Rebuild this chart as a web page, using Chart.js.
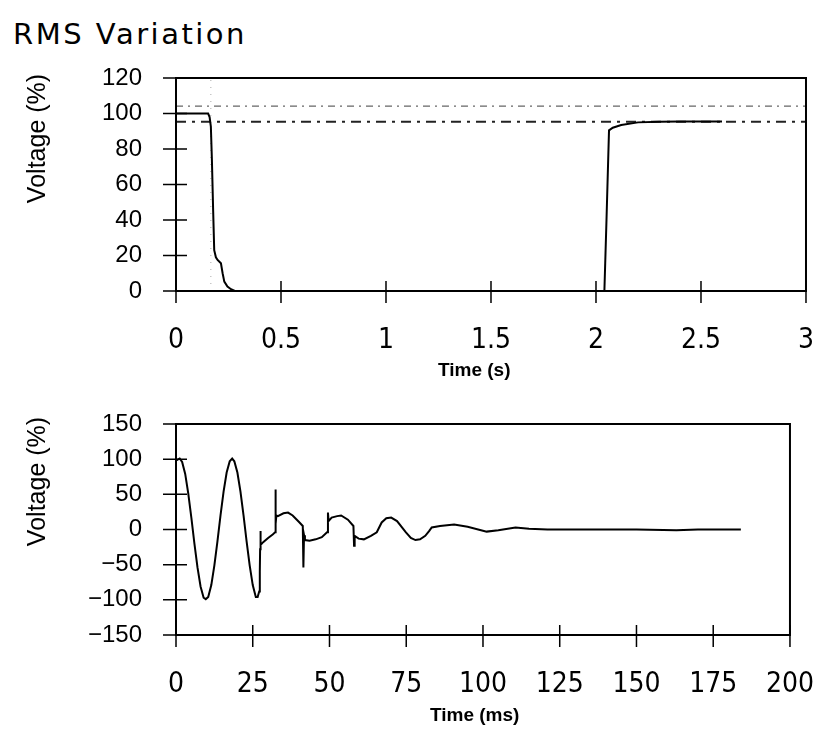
<!DOCTYPE html>
<html>
<head>
<meta charset="utf-8">
<script src="https://cdn.jsdelivr.net/npm/chart.js@4.4.1/dist/chart.umd.min.js"></script>
<style>
  body { margin: 0; background: #fff; }
  #wrap { position: relative; width: 839px; height: 729px; overflow: hidden; }
  canvas { position: absolute; left: 0; }
  .txt { position: absolute; color: #000; white-space: nowrap; }
  #title { left: 13px; top: 17px; line-height: 30px; font: 29px "DejaVu Sans"; letter-spacing: 2.5px; }
  .ylab { width: 140px; text-align: center; line-height: 30px; font: 25px "Liberation Sans"; transform: rotate(-90deg); }
  .xlab { font: bold 19px "Liberation Sans"; }
</style>
</head>
<body>
<div id="wrap">
  <div id="title" class="txt">RMS Variation</div>
  <canvas id="rmsChart" width="839" height="350" style="top:0"></canvas>
  <canvas id="waveChart" width="839" height="389" style="top:340px"></canvas>
  <div class="txt ylab" style="left:-34px; top:124px">Voltage (%)</div>
  <div class="txt ylab" style="left:-34px; top:467px">Voltage (%)</div>
  <div class="txt xlab" style="left:438px; top:359px">Time (s)</div>
  <div class="txt xlab" style="left:430px; top:704px">Time (ms)</div>
</div>
<script>
// top panel: rms voltage (%) vs time (s)
const rmsTime  = [0, 0.153, 0.16, 0.166, 0.171, 0.177, 0.182, 0.19, 0.198, 0.214, 0.222, 0.23, 0.245, 0.262, 0.28, 2.04, 2.05, 2.062, 2.08, 2.12, 2.2, 2.3, 2.4, 2.5, 2.6];
const rmsValue = [100, 100, 98, 92.6, 73.8, 45, 23, 19, 17.5, 15.6, 10, 5.3, 2.5, 1, 0, 0, 40, 90.5, 92, 93.5, 95, 95.3, 95.5, 95.5, 95.5];
const limitTime = [0, 3];
const upperLimit = [104.2, 104.2];
const lowerLimit = [95.4, 95.4];
const markerTime = [0.166, 0.166];
const markerValue = [0, 120];
const rmsTicksX = { min: 0, max: 3, step: 0.5 };
const rmsTicksY = { min: 0, max: 120, step: 20 };

// bottom panel: instantaneous voltage (%) vs time (ms)
const waveTime = [0, 1.2, 2, 3, 4, 5, 6, 7, 8, 9, 9.7, 10.5, 11.5, 12.5, 13.5, 14.5, 15.5, 16.5, 17.5, 18.3,
  19, 20, 21, 22, 23, 24, 25, 26, 26.6, 27.1, 27.3, 27.4, 27.5, 27.6, 28.4, 30, 31.5, 32.3, 32.4, 32.5,
  32.7, 33.2, 35, 36.5, 38, 40, 41.3, 41.5, 41.7, 42, 43.5, 45.5, 47.5, 49.2, 49.5, 49.7, 50.7, 52.5,
  53.8, 56, 57.8, 58, 58.2, 59.5, 61.2, 63.5, 65.4, 67, 68.5, 70.1, 72, 74.9, 76.5, 78, 79.5, 81.2,
  82.5, 83.3, 86, 90.6, 95, 101.2, 105, 110.6, 115, 121, 133.7, 150, 163, 170, 184];
const waveValue = [98, 101, 96, 79, 51, 17, -20, -54, -81, -97, -99, -96, -79, -51, -17, 20, 54, 81, 97, 101,
  97, 81, 54, 20, -17, -51, -79, -96, -96, -88, -60, -28, -2, -22, -18, -12, -7, -4, 57, 8,
  20, 19, 23, 24, 20, 11, 5, -54, -8, -15, -16, -14, -11, -4, 24, 12, 17, 19,
  20, 14, 5, -23, -9, -13, -14, -9, -4, 10, 16, 17, 12, -4, -12, -15, -14, -9,
  -2, 3, 5, 7, 4, -3, -1, 3, 1, 0, 0, 0, -1, 0, 0];
const waveTicksX = { min: 0, max: 200, step: 25 };
const waveTicksY = { min: -150, max: 150, step: 50 };

const pts = (xs, ys) => xs.map((x, i) => ({ x: x, y: ys[i] }));
const fmt = v => String(+Number(v).toFixed(2)).replace('-', '\u2212');

// box round the plot and ticks that cross the axes
const frame = {
  id: 'frame',
  afterDraw(chart) {
    const { ctx, chartArea: a, scales: { x, y } } = chart;
    ctx.save();
    ctx.strokeStyle = '#000';
    ctx.lineWidth = 2;
    ctx.strokeRect(a.left, a.top, a.right - a.left, a.bottom - a.top);
    ctx.lineWidth = 1.5;
    ctx.beginPath();
    x.ticks.forEach(t => {
      const px = x.getPixelForValue(t.value);
      ctx.moveTo(px, a.bottom - 10); ctx.lineTo(px, a.bottom + 12);
    });
    y.ticks.forEach(t => {
      const py = y.getPixelForValue(t.value);
      ctx.moveTo(a.left - 13, py); ctx.lineTo(a.left + 11, py);
    });
    ctx.stroke();
    ctx.restore();
  }
};

function makeChart(id, datasets, tx, ty, xHeight, padTop, padRight) {
  return new Chart(document.getElementById(id), {
    type: 'line',
    data: { datasets: datasets },
    options: {
      responsive: false, animation: false, devicePixelRatio: 1,
      layout: { padding: { top: padTop, right: padRight, left: 0, bottom: 0 } },
      plugins: { legend: { display: false }, tooltip: { enabled: false } },
      elements: { point: { radius: 0 }, line: { tension: 0 } },
      scales: {
        x: {
          type: 'linear', min: tx.min, max: tx.max,
          afterFit: s => { s.height = xHeight; },
          grid: { display: false }, border: { display: false },
          ticks: { stepSize: tx.step, padding: 25, color: '#000', maxRotation: 0, callback: fmt,
                   font: { family: "'DejaVu Sans Condensed', 'Liberation Sans', sans-serif", size: 28 } }
        },
        y: {
          type: 'linear', min: ty.min, max: ty.max,
          afterFit: s => { s.width = 176; },
          grid: { display: false }, border: { display: false },
          ticks: { stepSize: ty.step, padding: 26, color: '#000', callback: fmt,
                   font: { family: "'Liberation Sans', sans-serif", size: 24 } }
        }
      }
    },
    plugins: [frame]
  });
}

makeChart('rmsChart', [
  { data: pts(rmsTime, rmsValue), borderColor: '#000', borderWidth: 2 },
  { data: pts(limitTime, upperLimit), borderColor: '#666', borderWidth: 1.2, borderDash: [7, 5, 2, 5] },
  { data: pts(limitTime, lowerLimit), borderColor: '#222', borderWidth: 2, borderDash: [10, 6, 3, 6] },
  { data: pts(markerTime, markerValue), borderColor: '#aaa', borderWidth: 1, borderDash: [1, 6] }
], rmsTicksX, rmsTicksY, 59, 78, 27);

makeChart('waveChart', [
  { data: pts(waveTime, waveValue), borderColor: '#000', borderWidth: 2 }
], waveTicksX, waveTicksY, 94, 84, 28);
</script>
</body>
</html>
